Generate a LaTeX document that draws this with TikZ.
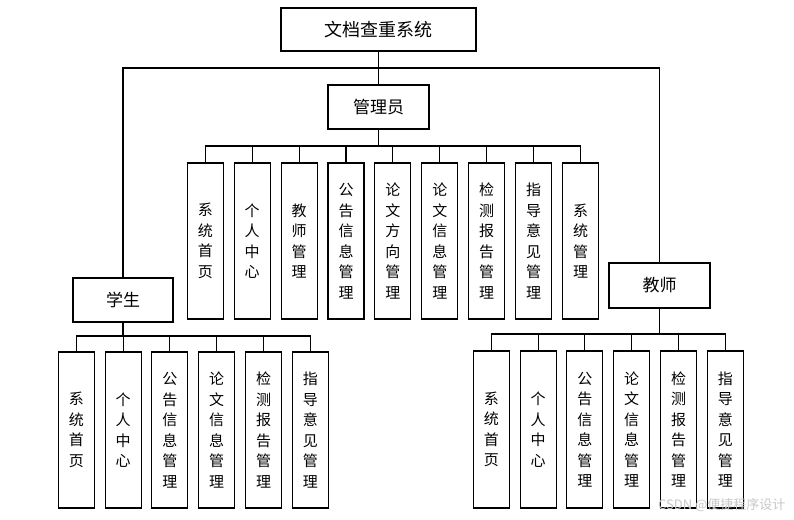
\documentclass[tikz,border=0pt]{standalone}
\usepackage{fontspec}
\newfontfamily\cjk{Noto Sans CJK SC}
\usetikzlibrary{positioning,calc}
\definecolor{MarkGray}{RGB}{200,200,200}
\tikzset{
	box/.style={draw=black,line width=1.1pt,fill=white,inner sep=0pt,font=\cjk},
	head/.style={box,minimum width=101pt,minimum height=44pt,font=\cjk\fontsize{17}{20}\selectfont},
	leaf/.style={box,minimum width=36pt,minimum height=156pt,align=center,font=\cjk\fontsize{15}{20.5}\selectfont},
	link/.style={draw=black,line width=1.1pt},
}

\begin{document}
\begin{tikzpicture}[x=1pt,y=-1pt]
	\useasboundingbox[fill=white] (0,0) rectangle (794,519);
	% top levels
	\node[box,minimum width=195pt,minimum height=43pt,font=\cjk\fontsize{18}{20}\selectfont] (root) at (378.5,29.5) {文档查重系统};
	\node[head] (admin) at (378.5,107) {管理员};
	\node[head,minimum width=100pt] (stu) at (123,300) {学生};
	\node[head,minimum height=45pt] (tea) at (659.5,285.5) {教师};
	\coordinate (tbus) at (378.5,68);
	\draw[link] (root.south) -- (admin.north);
	\draw[link] (tbus) -| (stu.north);
	\draw[link] (tbus) -| (tea.north);
	% admin functions
	\coordinate (abus) at (378.5,146);
	\foreach \t [count=\i] in {系\\统\\首\\页, 个\\人\\中\\心, 教\\师\\管\\理, 公\\告\\信\\息\\管\\理, 论\\文\\方\\向\\管\\理, 论\\文\\信\\息\\管\\理, 检\\测\\报\\告\\管\\理, 指\\导\\意\\见\\管\\理, 系\\统\\管\\理}{
		\node[leaf] (a\i) at ({205.3+46.9*(\i-1)},241) {\t};
		\draw[link] (admin.south) -- (abus) -| (a\i.north);
	}
	% student functions
	\coordinate (sbus) at (123,336);
	\foreach \t [count=\i] in {系\\统\\首\\页, 个\\人\\中\\心, 公\\告\\信\\息\\管\\理, 论\\文\\信\\息\\管\\理, 检\\测\\报\\告\\管\\理, 指\\导\\意\\见\\管\\理}{
		\node[leaf] (s\i) at ({76.3+46.8*(\i-1)},430) {\t};
		\draw[link] (stu.south) -- (sbus) -| (s\i.north);
	}
	% teacher functions
	\coordinate (ebus) at (659.5,334);
	\foreach \t [count=\i] in {系\\统\\首\\页, 个\\人\\中\\心, 公\\告\\信\\息\\管\\理, 论\\文\\信\\息\\管\\理, 检\\测\\报\\告\\管\\理, 指\\导\\意\\见\\管\\理}{
		\node[leaf,minimum height=157pt] (e\i) at ({491.3+46.8*(\i-1)},429.5) {\t};
		\draw[link] (tea.south) -- (ebus) -| (e\i.north);
	}
	\node[font=\cjk\fontsize{13}{15}\selectfont,text=MarkGray,anchor=east] (mark) at (789,505) {CSDN @便捷程序设计};
\end{tikzpicture}
\end{document}
